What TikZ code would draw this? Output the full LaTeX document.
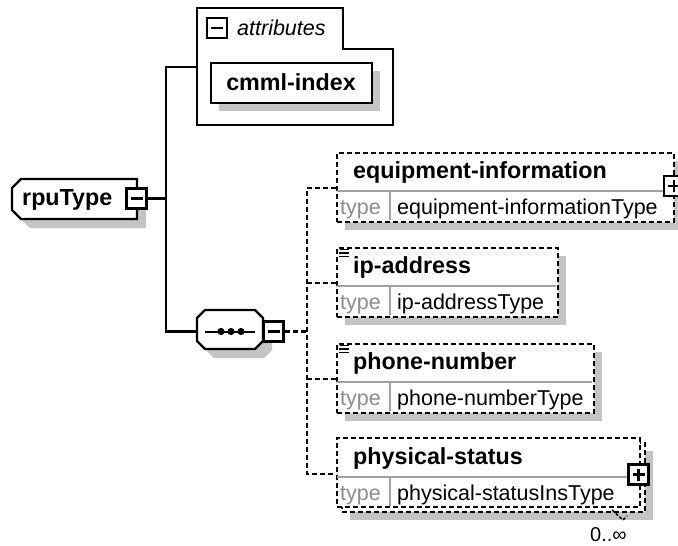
\documentclass[tikz,border=0pt]{standalone}
\usepackage{fontspec}
\setmainfont{Liberation Sans}
\usetikzlibrary{backgrounds,calc}
\definecolor{shadowgray}{HTML}{C4C4C4}
\definecolor{divgray}{HTML}{A0A0A0}
\definecolor{typegray}{HTML}{8C8C8C}
\tikzset{
  shade/.style={fill=shadowgray, draw=none},
  solidbox/.style={draw, line width=2.4pt, fill=white},
  dashbox/.style={draw, line width=2.2pt, dash pattern=on 5pt off 3pt, fill=white, inner sep=0, anchor=north west},
  conn/.style={line width=2.4pt},
  dconn/.style={line width=2.2pt, dash pattern=on 5pt off 3pt},
  bname/.style={font=\fontsize{23.3}{26}\selectfont\bfseries, anchor=base west, inner sep=0},
  tlabel/.style={font=\fontsize{21.5}{24}\selectfont, text=typegray, anchor=base west, inner sep=0},
  tval/.style={font=\fontsize{21.5}{24}\selectfont, anchor=base west, inner sep=0},
  divider/.style={draw=divgray, line width=1.8pt},
  iconbox/.style={draw, line width=2.2pt, fill=white, minimum size=20pt, inner sep=0},
  iconline/.style={line width=2.2pt},
  menuline/.style={line width=1.5pt},
}
\begin{document}
\begin{tikzpicture}[x=1pt, y=-1pt]
\useasboundingbox (0,0) rectangle (678,546);
\begin{scope}[on background layer]
  \fill[white] (0,0) rectangle (678,546);
\end{scope}

% ---------- shadows ----------
\fill[shade] (21,188) -- (30,188) -- (146,188) -- (146,228) -- (30,228) -- (21,219) -- cycle;
\fill[shade] (219,71) rectangle (380,111);
\fill[shade] (206,327) -- (214,319) -- (264,319) -- (272,327) -- (272,350) -- (264,358) -- (214,358) -- (206,350) -- cycle;
\fill[shade] (345,161) rectangle (682,230);
\fill[shade] (345,256) rectangle (566,325);
\fill[shade] (345,352) rectangle (602,421);
\fill[shade] (350,451) rectangle (653,520);

% ---------- rpuType ----------
\filldraw[conn, fill=white] (21,179) -- (137,179) -- (137,219) -- (21,219) -- (12,210) -- (12,188) -- cycle;
\node[bname] (rpu) at (22,205) {rpuType};
\node[iconbox] (rpuicon) at (136.5,198.5) {};
\draw[iconline] ([xshift=-6pt]rpuicon.center) -- ([xshift=6pt]rpuicon.center);

% ---------- attributes ----------
\draw[conn] (197,8) -- (343,8) -- (343,49) -- (393,49) -- (393,125) -- (197,125) -- cycle;
\node[iconbox] (attricon) at (217,28) {};
\draw[iconline] ([xshift=-6pt]attricon.center) -- ([xshift=6pt]attricon.center);
\node[tval, font=\fontsize{21.5}{24}\selectfont\itshape] (attrlbl) at (237,35) {attributes};
\node[solidbox, minimum width=161pt, minimum height=40pt, inner sep=0, anchor=north west] (cmml) at (210,62) {};
\node[font=\fontsize{23.3}{26}\selectfont\bfseries, anchor=base, inner sep=0] (cmmltext) at (291,90) {cmml-index};
\coordinate (attrin) at (197,67);

% ---------- sequence ----------
\filldraw[conn, fill=white] (197,318) -- (205,310) -- (255,310) -- (263,318) -- (263,341) -- (255,349) -- (205,349) -- (197,341) -- cycle;
\coordinate (seqin) at (197,331.5);
\draw[line width=2pt] (205,331.5) -- (255,331.5);
\fill (221,331.5) circle (3.6pt) (231,331.5) circle (3.6pt) (241,331.5) circle (3.6pt);
\node[iconbox] (seqicon) at (273.5,331.5) {};
\draw[iconline] ([xshift=-6pt]seqicon.center) -- ([xshift=6pt]seqicon.center);

% ---------- solid connectors ----------
\coordinate (jTop) at (166,67);
\coordinate (jMid) at (166,198.5);
\coordinate (jBot) at (166,331.5);
\draw[conn] (rpuicon.east) -- (jMid);
\draw[conn] (attrin) -- (jTop) -- (jBot) -- (seqin);

% ---------- equipment-information ----------
\node[dashbox, minimum width=337pt, minimum height=69pt] (eq) at (336,152) {};
\draw[divider] (337,191) -- (672,191);
\draw[divider] (390,191) -- (390,220);
\node[bname] (eqname) at (353,178) {equipment-information};
\node[tlabel] (eqtype) at (340,214) {type};
\node[tval] (eqval) at (397,214) {equipment-informationType};
\node[iconbox] (eqicon) at (674,186) {};
\draw[iconline] ([xshift=-6pt]eqicon.center) -- ([xshift=6pt]eqicon.center);
\draw[iconline] ([yshift=-6pt]eqicon.center) -- ([yshift=6pt]eqicon.center);
\coordinate (eqin) at (336,188);

% ---------- ip-address ----------
\node[dashbox, minimum width=221pt, minimum height=69pt] (ip) at (336,247) {};
\draw[divider] (337,286) -- (556,286);
\draw[divider] (390,286) -- (390,315);
\draw[menuline] (340,249.5) -- (349,249.5) (339,253) -- (349,253) (339,256.5) -- (349,256.5);
\node[bname] (ipname) at (353,273) {ip-address};
\node[tlabel] (iptype) at (340,309) {type};
\node[tval] (ipval) at (397,309) {ip-addressType};
\coordinate (ipin) at (336,283);

% ---------- phone-number ----------
\node[dashbox, minimum width=257pt, minimum height=69pt] (ph) at (336,343) {};
\draw[divider] (337,382) -- (592,382);
\draw[divider] (390,382) -- (390,411);
\draw[menuline] (340,345.5) -- (349,345.5) (339,349) -- (349,349) (339,352.5) -- (349,352.5);
\node[bname] (phname) at (353,369) {phone-number};
\node[tlabel] (phtype) at (340,405) {type};
\node[tval] (phval) at (397,405) {phone-numberType};
\coordinate (phin) at (336,379);

% ---------- physical-status ----------
\node[dashbox, minimum width=303pt, minimum height=69pt] (psback) at (341,442) {};
\node[dashbox, minimum width=303pt, minimum height=69pt] (ps) at (336,437) {};
\draw[divider] (337,477) -- (638,477);
\draw[divider] (390,477) -- (390,506);
\node[bname] (psname) at (353,464) {physical-status};
\node[tlabel] (pstype) at (340,500) {type};
\node[tval] (psval) at (397,500) {physical-statusInsType};
\node[iconbox] (psicon) at (638.5,474.5) {};
\draw[iconline] ([xshift=-6pt]psicon.center) -- ([xshift=6pt]psicon.center);
\draw[iconline] ([yshift=-6pt]psicon.center) -- ([yshift=6pt]psicon.center);
\coordinate (psin) at (336,474);
\draw[line width=1.5pt, dash pattern=on 3pt off 2pt] (612,510) -- (623,520) -- (627,516);
\node[tval, font=\fontsize{20}{22}\selectfont] (occ) at (590,541) {0..∞};

% ---------- dashed connectors ----------
\coordinate (vTop) at (307,188);
\coordinate (vBot) at (307,474);
\draw[dconn] (seqicon.east) -- (307,331.5);
\draw[dconn] (eqin) -- (vTop) -- (vBot) -- (psin);
\draw[dconn] (ipin) -- (307,283);
\draw[dconn] (phin) -- (307,379);
\end{tikzpicture}
\end{document}
